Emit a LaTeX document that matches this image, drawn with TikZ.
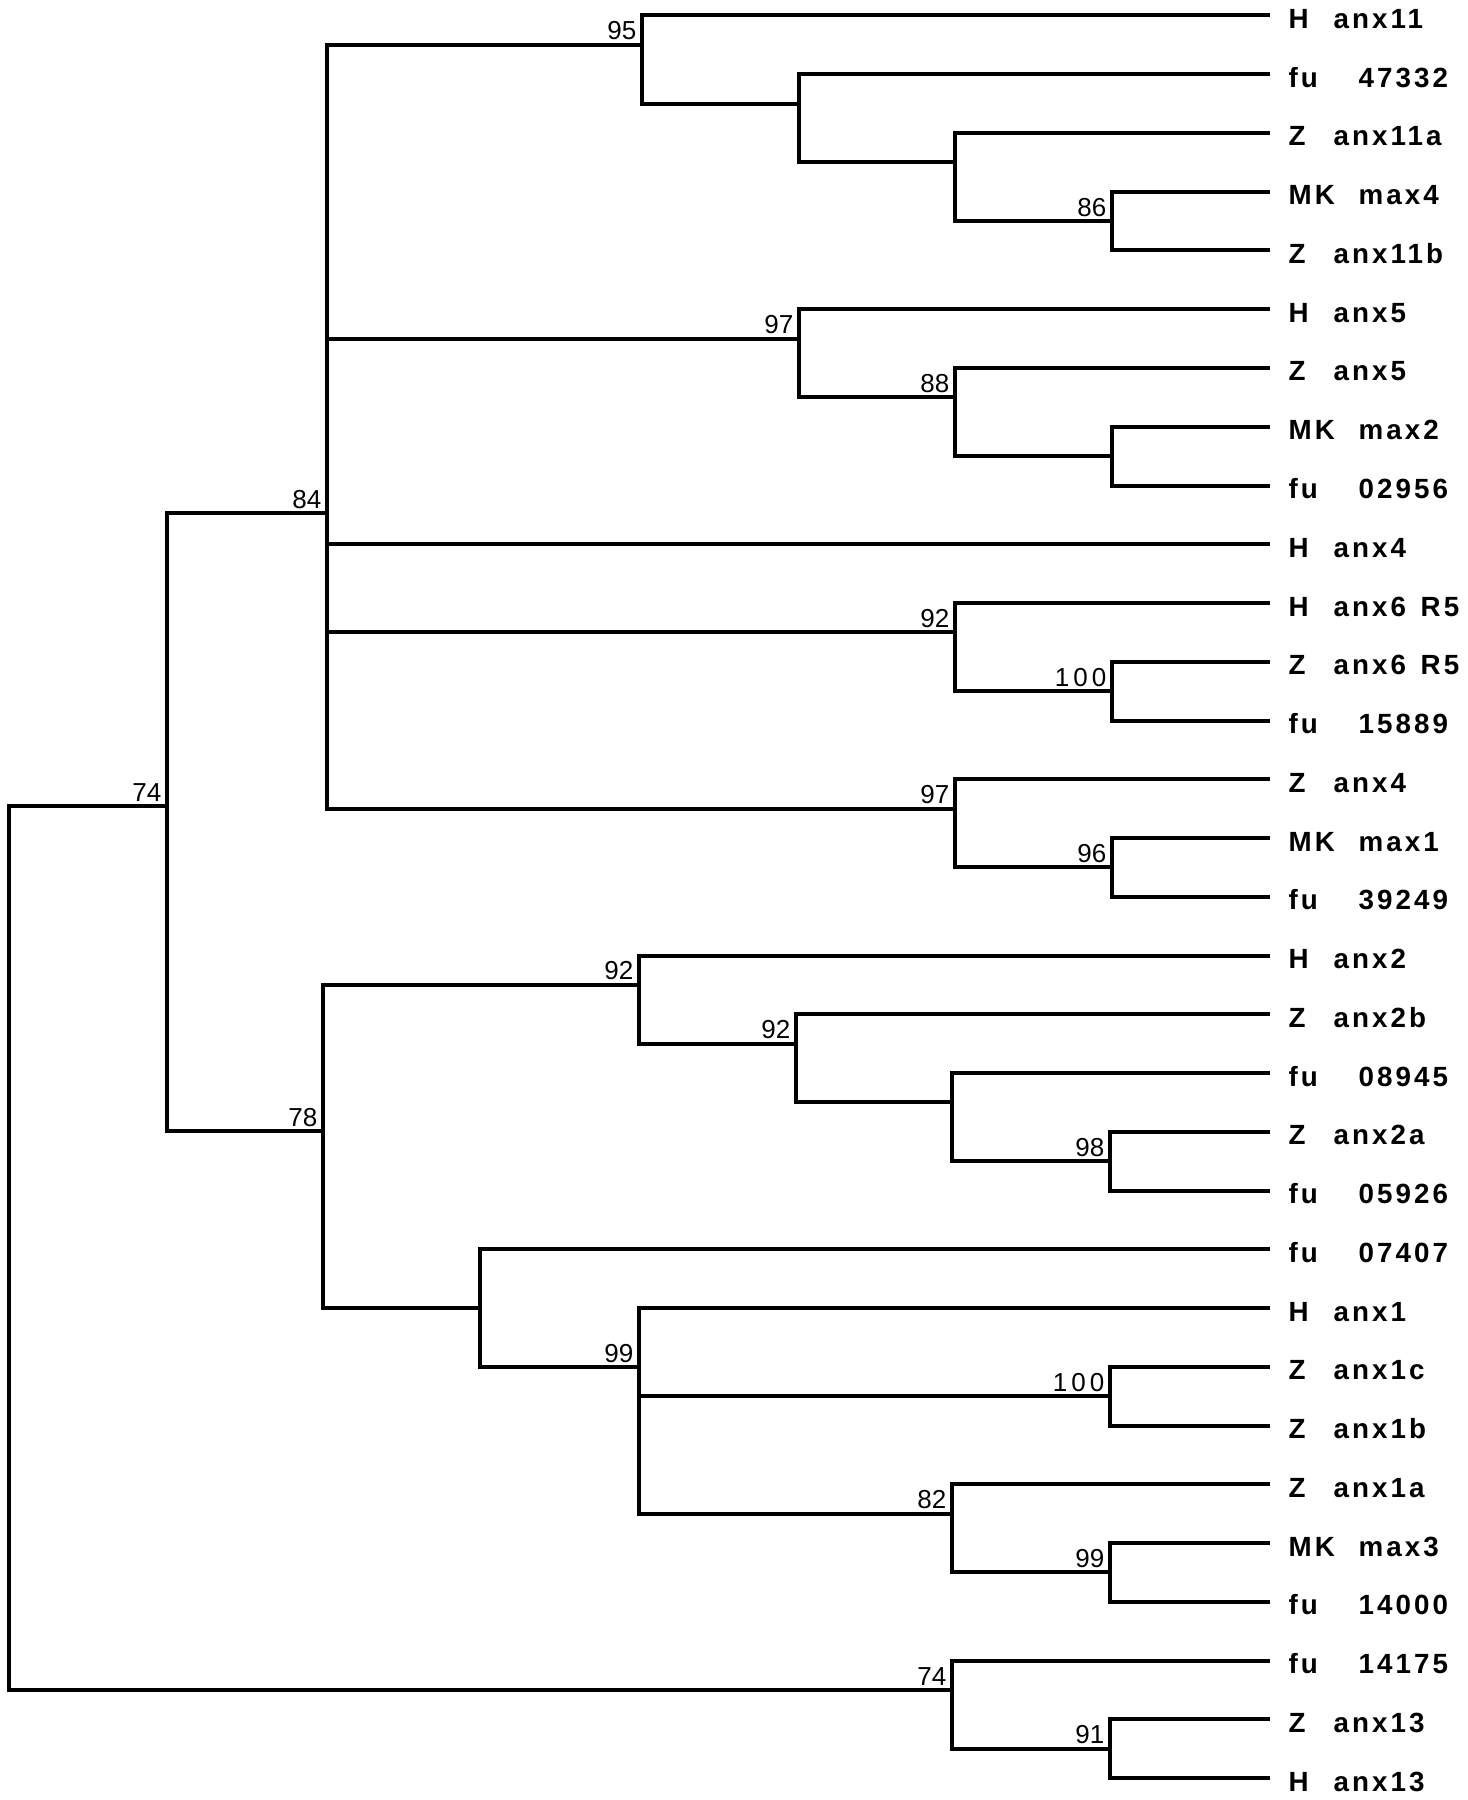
\documentclass[tikz,border=0pt]{standalone}
\usepackage{fontspec}
\usepackage{tikz}
\usetikzlibrary{positioning}
\setmainfont{Liberation Sans}
\newfontfamily\leaffont{Liberation Sans}[LetterSpace=11]
\newcommand{\taxon}[3]{\makebox[#1][l]{#2}#3}

\begin{document}
\begin{tikzpicture}[x=0.1mm, y=-0.1mm,
        branch/.style={line width=0.4mm},
        leaf/.style={anchor=west, inner xsep=1.8mm, inner ysep=0pt, text height=2.6mm, text depth=0pt,
            font=\leaffont\bfseries\fontsize{7.9}{9}\selectfont},
        boot/.style={inner sep=0pt, font=\fontsize{7.4}{9}\selectfont}]
        \useasboundingbox (0,0) rectangle (1467,1800);

        \node[leaf] (l1) at (1270,15.5) {\taxon{4.5mm}{H}{anx11}};
        \node[leaf] (l2) at (1270,74.25) {\taxon{7mm}{fu}{47332}};
        \node[leaf] (l3) at (1270,133) {\taxon{4.5mm}{Z}{anx11a}};
        \node[leaf] (l4) at (1270,191.75) {\taxon{7mm}{MK}{max4}};
        \node[leaf] (l5) at (1270,250.5) {\taxon{4.5mm}{Z}{anx11b}};
        \node[leaf] (l6) at (1270,309.25) {\taxon{4.5mm}{H}{anx5}};
        \node[leaf] (l7) at (1270,368) {\taxon{4.5mm}{Z}{anx5}};
        \node[leaf] (l8) at (1270,426.75) {\taxon{7mm}{MK}{max2}};
        \node[leaf] (l9) at (1270,485.5) {\taxon{7mm}{fu}{02956}};
        \node[leaf] (l10) at (1270,544.25) {\taxon{4.5mm}{H}{anx4}};
        \node[leaf] (l11) at (1270,603) {\taxon{4.5mm}{H}{\makebox[8.7mm][l]{anx6}R5}};
        \node[leaf] (l12) at (1270,661.75) {\taxon{4.5mm}{Z}{\makebox[8.7mm][l]{anx6}R5}};
        \node[leaf] (l13) at (1270,720.5) {\taxon{7mm}{fu}{15889}};
        \node[leaf] (l14) at (1270,779.25) {\taxon{4.5mm}{Z}{anx4}};
        \node[leaf] (l15) at (1270,838) {\taxon{7mm}{MK}{max1}};
        \node[leaf] (l16) at (1270,896.75) {\taxon{7mm}{fu}{39249}};
        \node[leaf] (l17) at (1270,955.5) {\taxon{4.5mm}{H}{anx2}};
        \node[leaf] (l18) at (1270,1014.25) {\taxon{4.5mm}{Z}{anx2b}};
        \node[leaf] (l19) at (1270,1073) {\taxon{7mm}{fu}{08945}};
        \node[leaf] (l20) at (1270,1131.75) {\taxon{4.5mm}{Z}{anx2a}};
        \node[leaf] (l21) at (1270,1190.5) {\taxon{7mm}{fu}{05926}};
        \node[leaf] (l22) at (1270,1249.25) {\taxon{7mm}{fu}{07407}};
        \node[leaf] (l23) at (1270,1308) {\taxon{4.5mm}{H}{anx1}};
        \node[leaf] (l24) at (1270,1366.75) {\taxon{4.5mm}{Z}{anx1c}};
        \node[leaf] (l25) at (1270,1425.5) {\taxon{4.5mm}{Z}{anx1b}};
        \node[leaf] (l26) at (1270,1484.25) {\taxon{4.5mm}{Z}{anx1a}};
        \node[leaf] (l27) at (1270,1543) {\taxon{7mm}{MK}{max3}};
        \node[leaf] (l28) at (1270,1601.75) {\taxon{7mm}{fu}{14000}};
        \node[leaf] (l29) at (1270,1660.5) {\taxon{7mm}{fu}{14175}};
        \node[leaf] (l30) at (1270,1719.25) {\taxon{4.5mm}{Z}{anx13}};
        \node[leaf] (l31) at (1270,1778) {\taxon{4.5mm}{H}{anx13}};

        \coordinate (root) at (9,1250);
        \coordinate (a74) at (167,806);
        \coordinate (b84) at (327,513);
        \coordinate (b95) at (642,44.9);
        \coordinate (b95x) at (799,103.6);
        \coordinate (b95y) at (955,162.4);
        \coordinate (b86) at (1112,221.1);
        \coordinate (b97) at (799,338.6);
        \coordinate (b88) at (955,397.4);
        \coordinate (b88x) at (1112,456.1);
        \coordinate (b92) at (955,632.4);
        \coordinate (b100) at (1112,691.1);
        \coordinate (c97) at (955,808.6);
        \coordinate (c96) at (1112,867.4);
        \coordinate (e78) at (323,1131);
        \coordinate (e92) at (639,984.9);
        \coordinate (f92) at (796,1043.6);
        \coordinate (f92x) at (952,1102.4);
        \coordinate (f98) at (1110,1161.1);
        \coordinate (g0) at (480,1308);
        \coordinate (g99) at (639,1367);
        \coordinate (g100) at (1110,1396.1);
        \coordinate (g82) at (952,1513.6);
        \coordinate (h99) at (1110,1572.4);
        \coordinate (k74) at (952,1689.9);
        \coordinate (k91) at (1110,1748.6);

        \node[boot, above left=0.4mm and 0.5mm of a74] (ta74) {74};
        \node[boot, above left=0.4mm and 0.5mm of b84] (tb84) {84};
        \node[boot, above left=0.4mm and 0.5mm of b95] (tb95) {95};
        \node[boot, above left=0.4mm and 0.5mm of b86] (tb86) {86};
        \node[boot, above left=0.4mm and 0.5mm of b97] (tb97) {97};
        \node[boot, above left=0.4mm and 0.5mm of b88] (tb88) {88};
        \node[boot, above left=0.4mm and 0.5mm of b92] (tb92) {92};
        \node[boot, above left=0.4mm and 0.5mm of b100] (tb100) {1\kern0.4mm0\kern0.4mm0};
        \node[boot, above left=0.4mm and 0.5mm of c97] (tc97) {97};
        \node[boot, above left=0.4mm and 0.5mm of c96] (tc96) {96};
        \node[boot, above left=0.4mm and 0.5mm of e78] (te78) {78};
        \node[boot, above left=0.4mm and 0.5mm of e92] (te92) {92};
        \node[boot, above left=0.4mm and 0.5mm of f92] (tf92) {92};
        \node[boot, above left=0.4mm and 0.5mm of f98] (tf98) {98};
        \node[boot, above left=0.4mm and 0.5mm of g99] (tg99) {99};
        \node[boot, above left=0.4mm and 0.5mm of g100] (tg100) {1\kern0.4mm0\kern0.4mm0};
        \node[boot, above left=0.4mm and 0.5mm of g82] (tg82) {82};
        \node[boot, above left=0.4mm and 0.5mm of h99] (th99) {99};
        \node[boot, above left=0.4mm and 0.5mm of k74] (tk74) {74};
        \node[boot, above left=0.4mm and 0.5mm of k91] (tk91) {91};

        \draw[branch] (root) |- (a74);
        \draw[branch] (root) |- (k74);
        \draw[branch] (a74) |- (b84);
        \draw[branch] (a74) |- (e78);

        \draw[branch] (b84) |- (b95);
        \draw[branch] (b84) |- (b97);
        \draw[branch] (b84) |- (l10.west);
        \draw[branch] (b84) |- (b92);
        \draw[branch] (b84) |- (c97);

        \draw[branch] (b95) |- (l1.west);
        \draw[branch] (b95) |- (b95x);
        \draw[branch] (b95x) |- (l2.west);
        \draw[branch] (b95x) |- (b95y);
        \draw[branch] (b95y) |- (l3.west);
        \draw[branch] (b95y) |- (b86);
        \draw[branch] (b86) |- (l4.west);
        \draw[branch] (b86) |- (l5.west);

        \draw[branch] (b97) |- (l6.west);
        \draw[branch] (b97) |- (b88);
        \draw[branch] (b88) |- (l7.west);
        \draw[branch] (b88) |- (b88x);
        \draw[branch] (b88x) |- (l8.west);
        \draw[branch] (b88x) |- (l9.west);

        \draw[branch] (b92) |- (l11.west);
        \draw[branch] (b92) |- (b100);
        \draw[branch] (b100) |- (l12.west);
        \draw[branch] (b100) |- (l13.west);

        \draw[branch] (c97) |- (l14.west);
        \draw[branch] (c97) |- (c96);
        \draw[branch] (c96) |- (l15.west);
        \draw[branch] (c96) |- (l16.west);

        \draw[branch] (e78) |- (e92);
        \draw[branch] (e78) |- (g0);
        \draw[branch] (e92) |- (l17.west);
        \draw[branch] (e92) |- (f92);
        \draw[branch] (f92) |- (l18.west);
        \draw[branch] (f92) |- (f92x);
        \draw[branch] (f92x) |- (l19.west);
        \draw[branch] (f92x) |- (f98);
        \draw[branch] (f98) |- (l20.west);
        \draw[branch] (f98) |- (l21.west);

        \draw[branch] (g0) |- (l22.west);
        \draw[branch] (g0) |- (g99);
        \draw[branch] (g99) |- (l23.west);
        \draw[branch] (g99) |- (g100);
        \draw[branch] (g99) |- (g82);
        \draw[branch] (g100) |- (l24.west);
        \draw[branch] (g100) |- (l25.west);
        \draw[branch] (g82) |- (l26.west);
        \draw[branch] (g82) |- (h99);
        \draw[branch] (h99) |- (l27.west);
        \draw[branch] (h99) |- (l28.west);

        \draw[branch] (k74) |- (l29.west);
        \draw[branch] (k74) |- (k91);
        \draw[branch] (k91) |- (l30.west);
        \draw[branch] (k91) |- (l31.west);
\end{tikzpicture}
\end{document}
